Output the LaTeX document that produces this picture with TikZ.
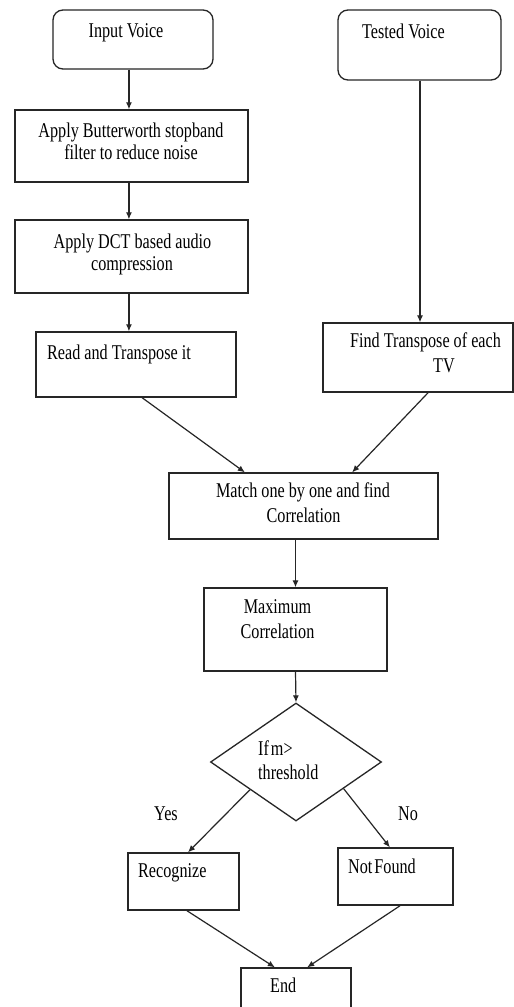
\documentclass[tikz,border=0pt]{standalone}
\usepackage{fontspec}
\setmainfont{Liberation Serif}[FakeStretch=0.77]
\usetikzlibrary{arrows.meta,shapes.geometric,calc,fit}
\begin{document}
\begin{tikzpicture}[x=1pt,y=-1pt,
  box/.style={draw=black!85, line width=1.3pt, inner sep=0pt, rectangle},
  rbox/.style={box, rounded corners=10pt},
  txt/.style={inner sep=0pt, font=\fontsize{21}{23}\selectfont, text=black},
  arr/.style={draw=black!85, line width=1.2pt, -{Latex[length=7pt,width=6pt]}},
  lin/.style={draw=black!85, line width=1.2pt}]
\useasboundingbox (0,0) rectangle (514,1007);
\clip (0,0) rectangle (514,1007);
\fill[white] (0,0) rectangle (514,1007);

% boxes
\node[rbox, fit={(53,10) (213,69)}] (iv) {};
\node[rbox, fit={(338,10) (501,80)}] (tv) {};
\node[box, fit={(15,110) (248,182)}] (bw) {};
\node[box, fit={(15,220) (248,293)}] (dct) {};
\node[box, fit={(36,332) (236,397)}] (rt) {};
\node[box, fit={(323,323) (513,392)}] (ft) {};
\node[box, fit={(169,473) (438,539)}] (mc) {};
\node[box, fit={(204,588) (387,671)}] (mx) {};
\node[draw=black!85, line width=1.3pt, diamond, aspect=1.45, inner sep=0pt,
      minimum width=171pt, minimum height=118pt] (dm) at (296,762) {};
\node[box, fit={(128,853) (239,910)}] (rec) {};
\node[box, fit={(338,848) (453,905)}] (nf) {};
\node[box, fit={(241,968) (351,1030)}] (en) {};

% texts
\node[txt, anchor=base] (tiv) at (126,37) {Input Voice};
\node[txt, anchor=base] (ttv) at (403.5,38) {Tested Voice};
\node[txt, anchor=base] (tbw1) at (131,137) {Apply Butterworth stopband};
\node[txt, anchor=base] (tbw2) at (131,159) {filter to reduce noise};
\node[txt, anchor=base] (tdct1) at (132.5,248) {Apply DCT based audio};
\node[txt, anchor=base] (tdct2) at (132,270) {compression};
\node[txt, anchor=base west] (trt) at (47,359) {Read and Transpose it};
\node[txt, anchor=base] (tft1) at (425.5,347) {Find Transpose of each};
\node[txt, anchor=base] (tft2) at (444,372) {TV};
\node[txt, anchor=base] (tmc1) at (303,497) {Match one by one and find};
\node[txt, anchor=base] (tmc2) at (303.5,522) {Correlation};
\node[txt, anchor=base] (tmx1) at (277.5,613) {Maximum};
\node[txt, anchor=base] (tmx2) at (277.5,638) {Correlation};
\node[txt, anchor=base west] (tdm1) at (258,755) {If\kern2pt m>};
\node[txt, anchor=base west] (tdm2) at (258,779) {threshold};
\node[txt, anchor=base west] (tyes) at (154,820) {Yes};
\node[txt, anchor=base west] (tno) at (398,820) {No};
\node[txt, anchor=base west] (trec) at (138,877) {Recognize};
\node[txt, anchor=base west] (tnf) at (348,873) {Not\kern2pt Found};
\node[txt, anchor=base west] (ten) at (270,992) {End};

% connector anchor points
\coordinate (a1) at ($(iv.south west)!0.475!(iv.south east)$);
\coordinate (a2) at ($(bw.south west)!0.489!(bw.south east)$);
\coordinate (a3) at ($(dct.south west)!0.489!(dct.south east)$);
\coordinate (b1) at ($(rt.south west)!0.53!(rt.south east)$);
\coordinate (b2) at ($(mc.north west)!0.283!(mc.north east)$);
\coordinate (c1) at ($(ft.south west)!0.553!(ft.south east)$);
\coordinate (c2) at ($(mc.north west)!0.68!(mc.north east)$);
\coordinate (d1) at ($(dm.west)!0.465!(dm.south)$);
\coordinate (d2) at ($(rec.north west)!0.54!(rec.north east)$);
\coordinate (e1) at ($(dm.east)!0.447!(dm.south)$);
\coordinate (e2) at ($(nf.north west)!0.452!(nf.north east)$);
\coordinate (f1) at ($(rec.south west)!0.53!(rec.south east)$);
\coordinate (f2) at ($(en.north west)!0.31!(en.north east)$);
\coordinate (g1) at ($(nf.south west)!0.54!(nf.south east)$);
\coordinate (g2) at ($(en.north west)!0.6!(en.north east)$);
\coordinate (h1) at ($(tv.south west)!0.503!(tv.south east)$);

% connectors
\draw[arr] (a1) -- (a1 |- bw.north);
\draw[arr] (a2) -- (a2 |- dct.north);
\draw[arr] (a3) -- (a3 |- rt.north);
\draw[arr] (h1) -- (h1 |- ft.north);
\draw[arr] (b1) -- (b2);
\draw[arr] (c1) -- (c2);
\draw[arr] (mx.north |- mc.south) -- (mx.north);
\draw[arr] (mx.south) -- (dm.north);
\draw[arr] (d1) -- (d2);
\draw[arr] (e1) -- (e2);
\draw[arr] (f1) -- (f2);
\draw[arr] (g1) -- (g2);
\end{tikzpicture}
\end{document}
